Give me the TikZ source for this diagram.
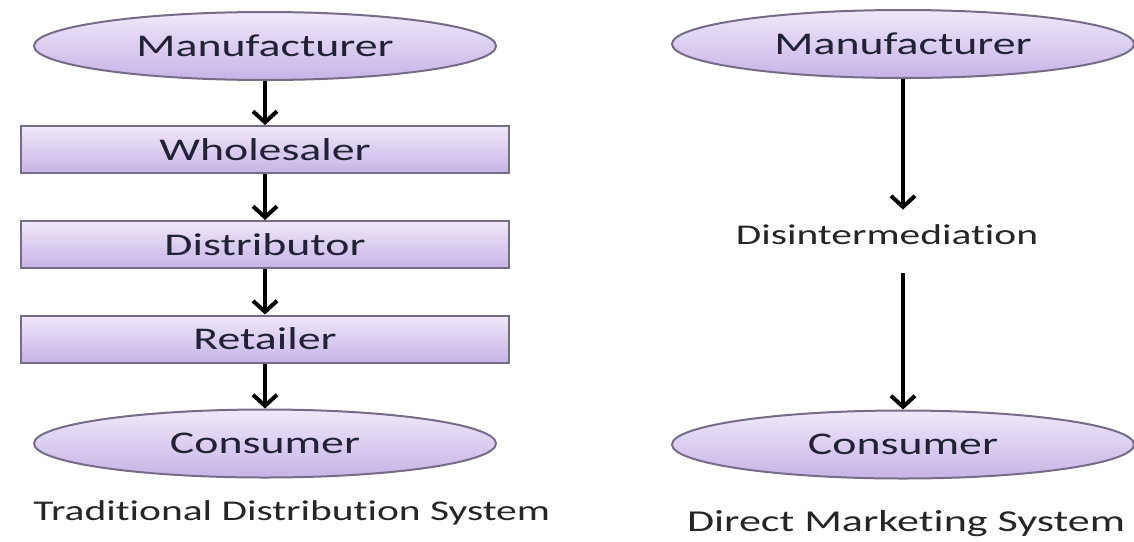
\documentclass[tikz,border=0pt]{standalone}
\usepackage{fontspec}
\setmainfont{Carlito}[FakeStretch=1.45, Ligatures=NoCommon]
\usetikzlibrary{positioning,shapes.geometric,arrows.meta}

\definecolor{shapeline}{HTML}{766C88}
\definecolor{shapetop}{HTML}{F0E8FA}
\definecolor{shapebottom}{HTML}{C6B4E6}
\definecolor{inktext}{HTML}{222236}

\tikzset{
    party/.style={ellipse, draw=shapeline, line width=1pt, top color=shapetop, bottom color=shapebottom,
        minimum width=231pt, minimum height=34pt, inner sep=0pt, text=inktext,
        font=\fontsize{15.8}{18}\selectfont},
    middleman/.style={rectangle, draw=shapeline, line width=1pt, top color=shapetop, bottom color=shapebottom,
        minimum width=244pt, minimum height=23.5pt, inner sep=0pt, text=inktext,
        font=\fontsize{15.8}{18}\selectfont},
    flow/.style={line width=2pt, -{Straight Barb[length=5.5pt, width=12pt, line width=2pt]}},
    label/.style={inner sep=0pt, text=black!85, font=\fontsize{14.3}{17}\selectfont}
}

\begin{document}
\begin{tikzpicture}[x=0.5pt, y=-0.5pt]
        \useasboundingbox (0,0) rectangle (1134,541);
        % Traditional chain
        \node[party] (lman) at (265, 46) {Manufacturer};
        \node[middleman] (whole) at (265, 149.5) {Wholesaler};
        \node[middleman] (dist) at (265, 244.5) {Distributor};
        \node[middleman] (retail) at (265, 339) {Retailer};
        \node[party] (lcons) at (265, 443.5) {Consumer};
        \foreach \a/\b in {lman/whole, whole/dist, dist/retail, retail/lcons} {
            \draw[flow] (\a) -- (\b);
        }
        \node[label, anchor=west] (ltitle) at (33, 513) {Traditional Distribution System};
        % Direct chain
        \node[party] (rman) at (903, 44) {Manufacturer};
        \node[label, minimum height=25pt] (skip) at (887, 235) {Disintermediation};
        \node[party] (rcons) at (903, 444.5) {Consumer};
        \draw[flow] (rman) -- (rman |- skip.north);
        \draw[flow, shorten <=6.5pt] (rman |- skip.south) -- (rcons);
        \node[label, font=\fontsize{15.2}{18}\selectfont] (rtitle) at (906, 524) {Direct Marketing System};
\end{tikzpicture}
\end{document}
